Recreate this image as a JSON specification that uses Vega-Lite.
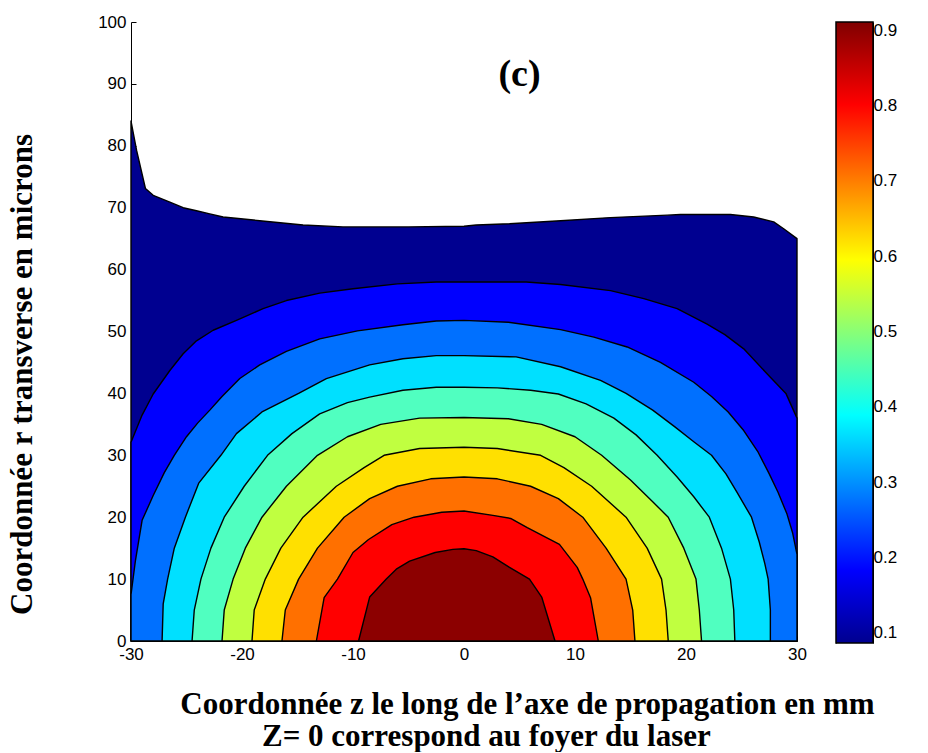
{
  "$schema": "https://vega.github.io/schema/vega-lite/v6.json",
  "background": "white",
  "padding": {"left": 6, "top": 13, "right": 5, "bottom": 0},
  "config": {"view": {"stroke": null}},
  "bounds": "flush",
  "spacing": 39,
  "hconcat": [
    {
      "width": 666,
      "height": 619,
      "title": {"text": "Z= 0 correspond au foyer du laser", "orient": "bottom", "anchor": "start", "frame": "group", "dx": 131, "offset": 3, "font": "Liberation Serif", "fontSize": 31, "fontWeight": "bold", "color": "black"},
      "layer": [
        {
          "data": {"values": [
            {"lev":"L1","z":-30,"r":84},{"lev":"L1","z":-29.5,"r":79.3},{"lev":"L1","z":-28.7,"r":73.1},{"lev":"L1","z":-28,"r":72},{"lev":"L1","z":-26.5,"r":70.9},{"lev":"L1","z":-25.3,"r":70},{"lev":"L1","z":-24.1,"r":69.5},{"lev":"L1","z":-22.9,"r":69},{"lev":"L1","z":-21.7,"r":68.5},{"lev":"L1","z":-18.4,"r":67.9},{"lev":"L1","z":-14.5,"r":67.2},{"lev":"L1","z":-10.9,"r":66.9},{"lev":"L1","z":-5,"r":66.9},{"lev":"L1","z":0,"r":67},{"lev":"L1","z":1.1,"r":67.2},{"lev":"L1","z":4.1,"r":67.4},{"lev":"L1","z":8.7,"r":67.9},{"lev":"L1","z":13.2,"r":68.4},{"lev":"L1","z":18.3,"r":68.8},{"lev":"L1","z":19.5,"r":68.9},{"lev":"L1","z":24,"r":68.9},{"lev":"L1","z":26.1,"r":68.5},{"lev":"L1","z":27.9,"r":67.7},{"lev":"L1","z":28.8,"r":66.6},{"lev":"L1","z":30,"r":65},
            {"lev":"L2","z":-30,"r":32.1},{"lev":"L2","z":-29,"r":36.5},{"lev":"L2","z":-28,"r":39.9},{"lev":"L2","z":-26.5,"r":43.7},{"lev":"L2","z":-25.3,"r":46.4},{"lev":"L2","z":-24.1,"r":48.5},{"lev":"L2","z":-22.6,"r":50.2},{"lev":"L2","z":-20.5,"r":51.8},{"lev":"L2","z":-18.1,"r":53.7},{"lev":"L2","z":-16,"r":55},{"lev":"L2","z":-13,"r":56.2},{"lev":"L2","z":-10,"r":56.9},{"lev":"L2","z":-6,"r":57.7},{"lev":"L2","z":-2.5,"r":58},{"lev":"L2","z":0,"r":58},{"lev":"L2","z":5.6,"r":58},{"lev":"L2","z":8.7,"r":57.6},{"lev":"L2","z":13.2,"r":56.6},{"lev":"L2","z":16.2,"r":55.3},{"lev":"L2","z":19.2,"r":53.7},{"lev":"L2","z":21.9,"r":51.2},{"lev":"L2","z":23.5,"r":49.5},{"lev":"L2","z":25.2,"r":47.2},{"lev":"L2","z":27.6,"r":42.6},{"lev":"L2","z":29,"r":40},{"lev":"L2","z":30,"r":36},
            {"lev":"L3","z":-30,"r":7.5},{"lev":"L3","z":-29.6,"r":13},{"lev":"L3","z":-29,"r":19.5},{"lev":"L3","z":-28,"r":23.5},{"lev":"L3","z":-27,"r":27.2},{"lev":"L3","z":-26.1,"r":30},{"lev":"L3","z":-25,"r":33},{"lev":"L3","z":-24,"r":35.2},{"lev":"L3","z":-22.9,"r":37.3},{"lev":"L3","z":-21.8,"r":39.5},{"lev":"L3","z":-20.2,"r":42.4},{"lev":"L3","z":-18.4,"r":44.6},{"lev":"L3","z":-16,"r":46.8},{"lev":"L3","z":-13,"r":48.8},{"lev":"L3","z":-9.6,"r":50.1},{"lev":"L3","z":-5.5,"r":51.1},{"lev":"L3","z":-2.5,"r":51.7},{"lev":"L3","z":0,"r":51.8},{"lev":"L3","z":4,"r":51.5},{"lev":"L3","z":8.7,"r":50.3},{"lev":"L3","z":11.7,"r":49.1},{"lev":"L3","z":14.7,"r":47.5},{"lev":"L3","z":17.7,"r":45},{"lev":"L3","z":20.7,"r":41.8},{"lev":"L3","z":22.3,"r":39.5},{"lev":"L3","z":23.8,"r":37},{"lev":"L3","z":25.2,"r":34},{"lev":"L3","z":26.5,"r":30.5},{"lev":"L3","z":27.5,"r":27},{"lev":"L3","z":28.3,"r":24},{"lev":"L3","z":29.1,"r":20.5},{"lev":"L3","z":29.6,"r":17.5},{"lev":"L3","z":30,"r":14},
            {"lev":"L4","z":-27.2,"r":0},{"lev":"L4","z":-27.1,"r":6},{"lev":"L4","z":-26.7,"r":10},{"lev":"L4","z":-26.1,"r":15},{"lev":"L4","z":-25.1,"r":20},{"lev":"L4","z":-23.9,"r":25.5},{"lev":"L4","z":-21.9,"r":30},{"lev":"L4","z":-20.5,"r":33.5},{"lev":"L4","z":-18.2,"r":37},{"lev":"L4","z":-14.9,"r":40},{"lev":"L4","z":-12.4,"r":42.4},{"lev":"L4","z":-8.5,"r":44.6},{"lev":"L4","z":-5.5,"r":45.6},{"lev":"L4","z":-2.5,"r":46.1},{"lev":"L4","z":0,"r":46.1},{"lev":"L4","z":4.7,"r":45.9},{"lev":"L4","z":8.7,"r":44.3},{"lev":"L4","z":12.3,"r":42.1},{"lev":"L4","z":14.6,"r":40},{"lev":"L4","z":17,"r":37.3},{"lev":"L4","z":19,"r":34.6},{"lev":"L4","z":20.7,"r":32.2},{"lev":"L4","z":22.3,"r":30},{"lev":"L4","z":23.6,"r":27},{"lev":"L4","z":24.6,"r":24},{"lev":"L4","z":25.9,"r":20},{"lev":"L4","z":26.6,"r":16},{"lev":"L4","z":27.1,"r":12.5},{"lev":"L4","z":27.4,"r":10},{"lev":"L4","z":27.6,"r":5},{"lev":"L4","z":27.6,"r":0},
            {"lev":"L5","z":-24.5,"r":0},{"lev":"L5","z":-24.3,"r":5},{"lev":"L5","z":-23.7,"r":10},{"lev":"L5","z":-22.8,"r":15},{"lev":"L5","z":-21.6,"r":20},{"lev":"L5","z":-19.8,"r":25},{"lev":"L5","z":-17.7,"r":30},{"lev":"L5","z":-15.5,"r":33.5},{"lev":"L5","z":-13,"r":36.7},{"lev":"L5","z":-10.5,"r":38.5},{"lev":"L5","z":-8.5,"r":39.4},{"lev":"L5","z":-5.5,"r":40.5},{"lev":"L5","z":-2.5,"r":41},{"lev":"L5","z":0,"r":41},{"lev":"L5","z":3,"r":40.9},{"lev":"L5","z":6,"r":40.5},{"lev":"L5","z":8.5,"r":39.9},{"lev":"L5","z":11,"r":38.3},{"lev":"L5","z":13.5,"r":36},{"lev":"L5","z":15.5,"r":33.3},{"lev":"L5","z":17.4,"r":30},{"lev":"L5","z":19.2,"r":26.5},{"lev":"L5","z":20.7,"r":23.3},{"lev":"L5","z":22.1,"r":20},{"lev":"L5","z":23.2,"r":15},{"lev":"L5","z":24,"r":10},{"lev":"L5","z":24.3,"r":5},{"lev":"L5","z":24.4,"r":0},
            {"lev":"L6","z":-21.8,"r":0},{"lev":"L6","z":-21.6,"r":5},{"lev":"L6","z":-20.8,"r":10},{"lev":"L6","z":-19.7,"r":15},{"lev":"L6","z":-18.2,"r":20},{"lev":"L6","z":-16,"r":25},{"lev":"L6","z":-13.2,"r":30},{"lev":"L6","z":-10.5,"r":33},{"lev":"L6","z":-7.5,"r":35},{"lev":"L6","z":-4,"r":36},{"lev":"L6","z":0,"r":36.1},{"lev":"L6","z":4,"r":35.9},{"lev":"L6","z":7,"r":35},{"lev":"L6","z":10,"r":33},{"lev":"L6","z":12.4,"r":30},{"lev":"L6","z":15,"r":26},{"lev":"L6","z":17,"r":22.5},{"lev":"L6","z":18.4,"r":20},{"lev":"L6","z":19.8,"r":15},{"lev":"L6","z":20.9,"r":10},{"lev":"L6","z":21.2,"r":5},{"lev":"L6","z":21.4,"r":0},
            {"lev":"L7","z":-19.1,"r":0},{"lev":"L7","z":-18.9,"r":5},{"lev":"L7","z":-17.9,"r":10},{"lev":"L7","z":-16.5,"r":15},{"lev":"L7","z":-14.5,"r":20},{"lev":"L7","z":-11.5,"r":25},{"lev":"L7","z":-9,"r":28},{"lev":"L7","z":-7.2,"r":30},{"lev":"L7","z":-4,"r":31.1},{"lev":"L7","z":0,"r":31.3},{"lev":"L7","z":3,"r":31.1},{"lev":"L7","z":6.9,"r":30},{"lev":"L7","z":9,"r":28},{"lev":"L7","z":11.5,"r":25},{"lev":"L7","z":14.6,"r":20},{"lev":"L7","z":16.5,"r":15},{"lev":"L7","z":17.8,"r":10},{"lev":"L7","z":18.2,"r":5},{"lev":"L7","z":18.4,"r":0},
            {"lev":"L8","z":-16.4,"r":0},{"lev":"L8","z":-16.1,"r":5},{"lev":"L8","z":-14.9,"r":10},{"lev":"L8","z":-13.2,"r":15},{"lev":"L8","z":-10.8,"r":20},{"lev":"L8","z":-8.5,"r":23},{"lev":"L8","z":-6,"r":25},{"lev":"L8","z":-3,"r":26.2},{"lev":"L8","z":0,"r":26.5},{"lev":"L8","z":3,"r":26.2},{"lev":"L8","z":6,"r":25},{"lev":"L8","z":8.5,"r":23},{"lev":"L8","z":10.7,"r":20},{"lev":"L8","z":12.8,"r":15},{"lev":"L8","z":14.6,"r":10},{"lev":"L8","z":15.2,"r":5},{"lev":"L8","z":15.4,"r":0},
            {"lev":"L9","z":-13.3,"r":0},{"lev":"L9","z":-12.6,"r":7},{"lev":"L9","z":-11.4,"r":10},{"lev":"L9","z":-10,"r":14.3},{"lev":"L9","z":-8.6,"r":16.4},{"lev":"L9","z":-6.5,"r":18.8},{"lev":"L9","z":-4.5,"r":20},{"lev":"L9","z":-2,"r":20.8},{"lev":"L9","z":0,"r":21},{"lev":"L9","z":2.6,"r":20.3},{"lev":"L9","z":4.2,"r":19.8},{"lev":"L9","z":5.7,"r":18.3},{"lev":"L9","z":8.6,"r":15.6},{"lev":"L9","z":10.2,"r":11.9},{"lev":"L9","z":10.7,"r":10},{"lev":"L9","z":11.4,"r":7},{"lev":"L9","z":12.1,"r":0},
            {"lev":"L10","z":-9.5,"r":0},{"lev":"L10","z":-8.5,"r":7.1},{"lev":"L10","z":-7,"r":10},{"lev":"L10","z":-6.1,"r":11.6},{"lev":"L10","z":-4.9,"r":12.9},{"lev":"L10","z":-2.6,"r":14.3},{"lev":"L10","z":-1,"r":14.8},{"lev":"L10","z":0,"r":14.9},{"lev":"L10","z":1.1,"r":14.6},{"lev":"L10","z":2.6,"r":13.6},{"lev":"L10","z":4.1,"r":11.9},{"lev":"L10","z":5.9,"r":10},{"lev":"L10","z":7,"r":7.1},{"lev":"L10","z":8.2,"r":0}
          ]},
          "mark": {"type": "area", "stroke": "black", "strokeWidth": 1.4, "strokeJoin": "round"},
          "encoding": {
            "x": {"field": "z", "type": "quantitative", "scale": {"domain": [-30, 30], "nice": false},
              "axis": {"values": [-30, -20, -10, 0, 10, 20, 30], "labelExpr": "'' + datum.value", "tickSize": -5, "tickColor": "black", "domainColor": "black", "grid": false,
                "labelFont": "Liberation Sans", "labelFontSize": 17, "labelColor": "black", "labelPadding": 10, "labelFlush": false,
                "title": "Coordonnée z le long de l’axe de propagation en mm", "titleFont": "Liberation Serif", "titleFontSize": 31, "titleFontWeight": "bold", "titleColor": "black",
                "titleX": 396, "titleY": 72, "titleBaseline": "alphabetic", "titleAlign": "center"}},
            "y": {"field": "r", "type": "quantitative", "stack": null, "scale": {"domain": [0, 100], "nice": false},
              "axis": {"values": [0, 10, 20, 30, 40, 50, 60, 70, 80, 90, 100], "tickSize": -5, "tickColor": "black", "domainColor": "black", "grid": false,
                "labelFont": "Liberation Sans", "labelFontSize": 17, "labelColor": "black", "labelPadding": 10, "labelFlush": false,
                "title": "Coordonnée r transverse en microns", "titleFont": "Liberation Serif", "titleFontSize": 31, "titleFontWeight": "bold", "titleColor": "black",
                "titleX": -109, "titleY": 352, "titleAngle": 270, "titleAlign": "center", "titleBaseline": "middle"}},
            "color": {"field": "lev", "type": "nominal", "legend": null,
              "scale": {"domain": ["L1","L2","L3","L4","L5","L6","L7","L8","L9","L10"],
                "range": ["#000090","#0000FF","#0070FF","#00E0FF","#50FFC0","#C0FF40","#FFE000","#FF7000","#FF0000","#8C0000"]}}
          }
        },
        {
          "data": {"values": [{"z": 5.0, "r": 91.5, "t": "(c)"}]},
          "mark": {"type": "text", "font": "Liberation Serif", "fontSize": 38, "fontWeight": "bold", "baseline": "middle", "align": "center", "color": "black"},
          "encoding": {
            "x": {"field": "z", "type": "quantitative"},
            "y": {"field": "r", "type": "quantitative"},
            "text": {"field": "t"}
          }
        }
      ]
    },
    {
      "width": 37,
      "height": 621,
      "data": {"values": [{"lo": 0.0867, "hi": 0.911, "a": 0, "b": 1}]},
      "layer": [
        {
          "mark": {"type": "rect", "stroke": "black", "strokeWidth": 1.5,
            "fill": {"gradient": "linear", "x1": 0, "y1": 1, "x2": 0, "y2": 0,
              "stops": [{"offset": 0, "color": "#00008F"}, {"offset": 0.117, "color": "#0000FF"}, {"offset": 0.367, "color": "#00FFFF"}, {"offset": 0.617, "color": "#FFFF00"}, {"offset": 0.867, "color": "#FF0000"}, {"offset": 1, "color": "#800000"}]}},
          "encoding": {
            "x": {"field": "a", "type": "quantitative", "scale": {"domain": [0, 1], "nice": false}, "axis": null},
            "x2": {"field": "b"},
            "y": {"field": "lo", "type": "quantitative", "scale": {"domain": [0.0867, 0.911], "nice": false, "zero": false},
              "axis": {"orient": "right", "values": [0.1, 0.2, 0.3, 0.4, 0.5, 0.6, 0.7, 0.8, 0.9], "tickSize": -5, "tickColor": "black", "domainColor": "black", "grid": false,
                "labelFont": "Liberation Sans", "labelFontSize": 17, "labelColor": "black", "labelPadding": 5, "labelFlush": false, "title": null}},
            "y2": {"field": "hi"}
          }
        },
        {
          "mark": {"type": "rect", "fillOpacity": 0},
          "encoding": {
            "x": {"field": "a", "type": "quantitative", "scale": {"domain": [0, 1], "nice": false}, "axis": null},
            "x2": {"field": "b"},
            "y": {"field": "lo", "type": "quantitative", "scale": {"domain": [0.0867, 0.911], "nice": false, "zero": false},
              "axis": {"orient": "left", "values": [0.1, 0.2, 0.3, 0.4, 0.5, 0.6, 0.7, 0.8, 0.9], "tickSize": -5, "tickColor": "black", "domainColor": "black", "grid": false, "labels": false, "title": null}},
            "y2": {"field": "hi"}
          }
        }
      ],
      "resolve": {"scale": {"y": "independent"}, "axis": {"y": "independent"}}
    }
  ]
}
